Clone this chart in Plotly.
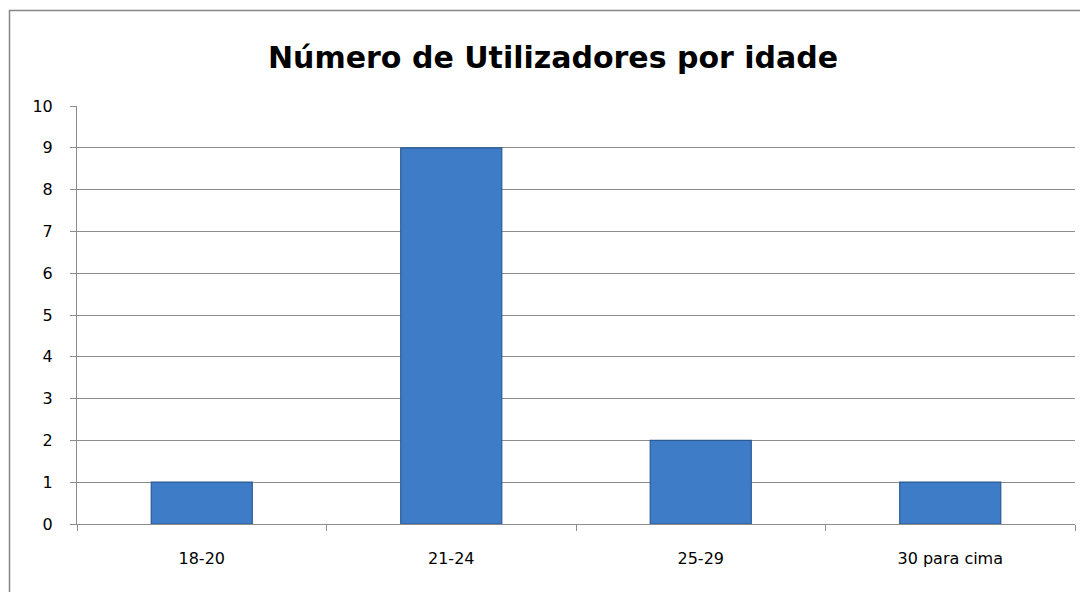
import plotly.graph_objects as go

categories = ["18-20", "21-24", "25-29", "30 para cima"]
values = [1, 9, 2, 1]
y_ticks = list(range(0, 11))
title_text = "Número de Utilizadores por idade"

fig = go.Figure()
fig.add_trace(go.Bar(
    x=categories, y=values,
    marker=dict(color="#3F7CC8", line=dict(color="#2A5A96", width=1.2)),
    width=0.405,
))

# page body has an 8px offset; compensate so the plot lands where the reference has it
OFF = 8
W, H = 1088, 592
L, R, T, B = 77 - OFF, 21, 106 - OFF, 76
pw, ph = W - L - R, H - T - B

def px_x(p):
    return (p - OFF - L) / pw

def px_y(p):
    return (H - B - (p - OFF)) / ph

fig.update_layout(
    width=W, height=H,
    margin=dict(l=L, r=R, t=T, b=B),
    paper_bgcolor="white", plot_bgcolor="white",
    showlegend=False,
    font=dict(family="DejaVu Sans, sans-serif", color="#000000", size=16),
    bargap=0.595,
)
fig.update_yaxes(
    range=[0, 10], tickvals=y_ticks, showgrid=True, gridcolor="#8C8C8C", gridwidth=1,
    showline=True, linecolor="#8C8C8C", linewidth=1,
    ticks="outside", ticklen=6, tickcolor="#8C8C8C", ticklabelstandoff=14,
    zeroline=False, fixedrange=True,
)
fig.update_xaxes(
    showline=True, linecolor="#8C8C8C", linewidth=1,
    ticks="outside", tickson="boundaries", ticklen=6, tickcolor="#8C8C8C",
    ticklabelstandoff=20, showgrid=False,
)
fig.add_annotation(
    text="<b>" + title_text + "</b>", x=px_x(553), y=px_y(57), xref="paper", yref="paper",
    showarrow=False, font=dict(size=30, family="DejaVu Sans, sans-serif", color="#000000"),
    xanchor="center", yanchor="middle",
)
fig.add_shape(
    type="rect", xref="paper", yref="paper",
    x0=px_x(9.5), x1=px_x(1100), y0=px_y(610), y1=px_y(10.5),
    line=dict(color="#868686", width=1.5), fillcolor="rgba(0,0,0,0)", layer="below",
)
fig.write_html("out.html")
